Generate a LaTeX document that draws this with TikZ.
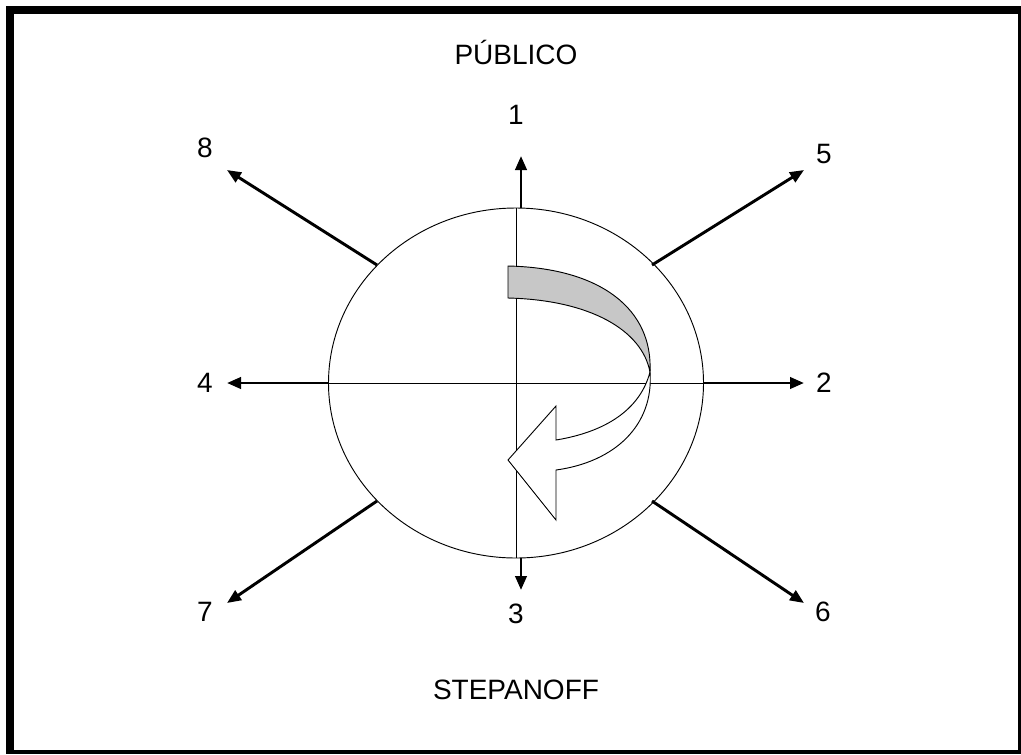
\documentclass[tikz,border=0pt]{standalone}
\usepackage{fontspec}
\setmainfont{Liberation Sans}
\usetikzlibrary{arrows.meta}
\tikzset{
  lbl/.style={font=\fontsize{21}{25}\selectfont, inner sep=0pt},
  ray/.style={-{Triangle[length=10.5pt,width=8.5pt]}, line width=2.2pt},
  hair/.style={line width=0.7pt}
}

\begin{document}
\begin{tikzpicture}[x=0.75pt,y=-0.75pt]
    \useasboundingbox (0,0) rectangle (1021,754);
    % frame
    \fill (6,6) rectangle (1021,754);
    \fill[white] (14,14) rectangle (1018,750);

    % circle and axes
    \coordinate (c) at (516,383);
    \coordinate (top) at (516,208);
    \coordinate (bot) at (516,558);
    \coordinate (lft) at (328,383);
    \coordinate (rgt) at (703,383);
    \draw[hair] (c) ellipse [x radius=187.5, y radius=175];
    \draw[hair] (top) -- (bot);
    \draw[hair] (lft) -- (rgt);

    % labels
    \node[lbl] (publico) at (516,52) {PÚBLICO};
    \node[lbl] (stepanoff) at (516,690) {STEPANOFF};
    \node[lbl] (n1) at (516,115) {1};
    \node[lbl] (n2) at (824,383) {2};
    \node[lbl] (n3) at (516,614) {3};
    \node[lbl] (n4) at (205,383) {4};
    \node[lbl] (n5) at (824,154) {5};
    \node[lbl] (n6) at (823,612) {6};
    \node[lbl] (n7) at (205,612) {7};
    \node[lbl] (n8) at (205,148) {8};

    % ray ends
    \coordinate (s1) at (521,208);
    \coordinate (s3) at (521,558);
    \coordinate (s5) at (652,265);
    \coordinate (s6) at (652,501);
    \coordinate (s7) at (377,501);
    \coordinate (s8) at (377,265);
    \coordinate (e1) at (521,156);
    \coordinate (e2) at (804,383);
    \coordinate (e3) at (521,590);
    \coordinate (e4) at (227,383);
    \coordinate (e5) at (804,170);
    \coordinate (e6) at (804,603);
    \coordinate (e7) at (227,603);
    \coordinate (e8) at (227,170);

    \draw[ray] (s1) -- (e1);
    \draw[ray] (rgt) -- (e2);
    \draw[ray] (s3) -- (e3);
    \draw[ray] (lft) -- (e4);
    \draw[ray] (s5) -- (e5);
    \draw[ray] (s6) -- (e6);
    \draw[ray] (s7) -- (e7);
    \draw[ray] (s8) -- (e8);

    % turning arrow
    \filldraw[hair, fill=black!22] (508,266) .. controls (602,268) and (653,310) .. (650,372)
      .. controls (642,330) and (590,300) .. (508,298) -- cycle;
    \filldraw[hair, fill=white] (650,372) .. controls (654,425) and (615,462) .. (556,470)
      -- (556,520) -- (508,460) -- (556,406) -- (556,440)
      .. controls (605,432) and (640,410) .. (650,372) -- cycle;
\end{tikzpicture}
\end{document}
